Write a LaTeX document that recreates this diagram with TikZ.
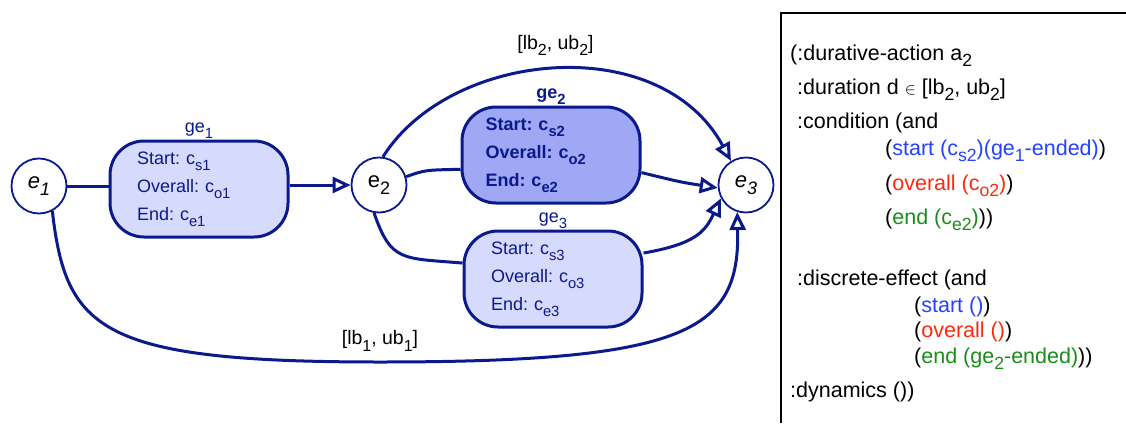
\documentclass[tikz,border=0pt]{standalone}
\usepackage{fontspec}
\setmainfont{Liberation Sans}
\usetikzlibrary{positioning,arrows.meta,calc,backgrounds}

\definecolor{navy}{RGB}{10,25,140}
\definecolor{boxfill}{RGB}{214,218,252}
\definecolor{boxdark}{RGB}{160,168,245}
\definecolor{cblue}{RGB}{35,65,255}
\definecolor{cred}{RGB}{255,40,10}
\definecolor{cgreen}{RGB}{25,140,25}

\newcommand{\lowidx}[1]{\raisebox{-0.32em}{\scalebox{0.82}{#1}}}

\begin{document}
\frenchspacing
\begin{tikzpicture}[x=1pt,y=-1pt]
            \tikzset{
                event/.style={
                    draw=navy,
                    line width=1.8pt,
                    fill=white,
                    circle,
                    minimum size=55pt,
                    inner sep=0pt,
                    font=\fontsize{22}{26}\selectfont
                }
            }
            \tikzset{
                gebox/.style={
                    draw=navy,
                    line width=3pt,
                    fill=boxfill,
                    rounded corners=34pt,
                    minimum width=178pt,
                    minimum height=96pt,
                    text width=124pt,
                    inner xsep=27pt,
                    align=left,
                    text=navy,
                    font=\fontsize{18}{28}\selectfont
                }
            }
            \tikzset{
                gelabel/.style={
                    text=navy,
                    inner sep=1pt,
                    font=\fontsize{18}{20}\selectfont
                }
            }
            \tikzset{
                link/.style={
                    navy,
                    line width=3pt
                },
                tip/.style={
                    -{Triangle[open,length=18pt,width=16pt]}
                }
            }
            \tikzset{
                bound/.style={
                    font=\fontsize{19.5}{22}\selectfont
                }
            }
            \tikzset{
                pddl/.style={
                    anchor=base west,
                    inner sep=0pt,
                    font=\fontsize{21.5}{25}\selectfont
                }
            }

            \useasboundingbox (0,0) rectangle (1126,423);

            \node[event] (e1) at (39,186) {\textit{e}\lowidx{\textit{1}}};
            \node[event] (e2) at (379,185) {e\lowidx{2}};
            \node[event] (e3) at (746,185) {\textit{e}\lowidx{\textit{3}}};

            \node[gebox] (ge1) at (199,189) {Start: c\lowidx{s1}\\Overall: c\lowidx{o1}\\End: c\lowidx{e1}};
            \node[gebox, fill=boxdark, text width=131pt, inner xsep=23pt, font=\fontsize{18}{28}\selectfont\bfseries] (ge2) at (551,155) {Start: c\lowidx{s2}\\Overall: c\lowidx{o2}\\End: c\lowidx{e2}};
            \node[gebox] (ge3) at (553,279) {Start: c\lowidx{s3}\\Overall: c\lowidx{o3}\\End: c\lowidx{e3}};

            \node[gelabel, above=0pt of ge1] (lab1) {ge\lowidx{1}};
            \node[gelabel, above=0pt of ge2, font=\fontsize{18}{20}\selectfont\bfseries] (lab2) {ge\lowidx{2}};
            \node[gelabel, above=0pt of ge3] (lab3) {ge\lowidx{3}};

            \begin{scope}[on background layer]
            \draw[link] (e1.east) -- (ge1.west |- e1.east);
            \draw[link,tip] (ge1.east |- e2.west) -- (e2.west);

            \draw[link,tip] (e2.82) .. controls (450,50) and (660,30) .. (e3.122)
                node[bound, black, pos=0.5, above=9pt] (b2) {[lb\lowidx{2}, ub\lowidx{2}]};
            \draw[link] (e2.17) .. controls (425,170) .. (ge2.189);
            \draw[link,tip] (ge2.-11) .. controls (680,182) .. (e3.186);

            \draw[link] (e2.-100) .. controls (391,262) and (402,258) .. (ge3.170);
            \draw[link,tip] (ge3.16) .. controls (695,244) and (705,232) .. (e3.208);

            \draw[link,tip] (e1.-62) .. controls (66,330) and (100,362) .. (380,362)
                node[bound, black, above=6pt] (b1) {[lb\lowidx{1}, ub\lowidx{1}]}
                .. controls (690,362) and (740,330) .. (e3.-108);
            \end{scope}

            % action description
            \draw[line width=2.2pt] (781,423) -- (781,13) -- (1126,13);

            \node[pddl] (p1) at (790,60) {(:durative-action a\lowidx{2}};
            \node[pddl] (p2) at (797,94) {:duration d \scalebox{0.8}{$\in$} [lb\lowidx{2}, ub\lowidx{2}]};
            \node[pddl] (p3) at (797,128) {:condition (and};
            \node[pddl] (p4) at (885,155) {(\textcolor{cblue}{start (c\lowidx{s2})(ge\lowidx{1}-ended)})};
            \node[pddl] (p5) at (885,190) {(\textcolor{cred}{overall (c\lowidx{o2})})};
            \node[pddl] (p6) at (885,224) {(\textcolor{cgreen}{end (c\lowidx{e2})}))};
            \node[pddl] (p7) at (797,285) {:discrete-effect (and};
            \node[pddl] (p8) at (914,312) {(\textcolor{cblue}{start ()})};
            \node[pddl] (p9) at (914,337) {(\textcolor{cred}{overall ()})};
            \node[pddl] (p10) at (914,363) {(\textcolor{cgreen}{end (ge\lowidx{2}-ended)}))};
            \node[pddl] (p11) at (790,397) {:dynamics ())};
        \end{tikzpicture}
\end{document}
